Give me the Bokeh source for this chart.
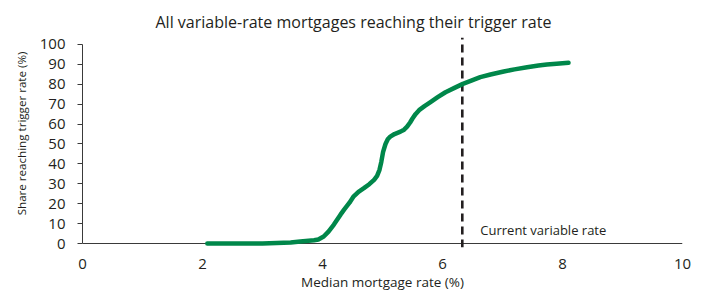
from bokeh.plotting import figure
from bokeh.models import Range1d, FixedTicker, Label
from bokeh.embed import file_html
from bokeh.resources import INLINE

# Data
rate = [2.08, 2.5, 3.0, 3.47, 3.63, 3.86, 3.93, 4.02, 4.1, 4.19, 4.3, 4.36, 4.45, 4.52, 4.6,
        4.69, 4.78, 4.86, 4.91, 4.95, 4.98, 5.01, 5.05, 5.09, 5.13, 5.2, 5.3, 5.36, 5.41, 5.46,
        5.5, 5.55, 5.61, 5.7, 5.8, 5.92, 6.05, 6.2, 6.34, 6.48, 6.63, 6.8, 7.02, 7.2, 7.41,
        7.6, 7.74, 7.9, 8.1]
share = [0.0, 0.0, 0.0, 0.5, 1.0, 1.6, 2.0, 3.5, 6.0, 9.5, 14.5, 17.0, 20.5, 23.7, 26.0,
         27.8, 29.8, 32.0, 34.0, 37.0, 41.0, 46.0, 50.0, 52.5, 53.7, 55.0, 56.2, 57.2, 58.7, 60.8,
         62.8, 65.0, 67.0, 69.0, 71.0, 73.5, 76.0, 78.2, 80.2, 81.8, 83.6, 84.9, 86.4, 87.5, 88.6,
         89.4, 89.9, 90.3, 90.8]
current_rate = 6.33
x_ticks = [0, 2, 4, 6, 8, 10]
y_ticks = [0, 10, 20, 30, 40, 50, 60, 70, 80, 90, 100]

title_text = "All variable-rate mortgages reaching their trigger rate"
x_label = "Median mortgage rate (%)"
y_label = "Share reaching trigger rate (%)"
annot_text = "Current variable rate"

FONT = "Open Sans"
TXT = "#231f20"

p = figure(width=700, height=293, output_backend="svg", toolbar_location=None,
           x_range=Range1d(0, 10), y_range=Range1d(-2, 103.5),
           min_border_left=82, min_border_right=18, min_border_top=37, min_border_bottom=45)

p.title.text = title_text
p.title.text_font = FONT
p.title.text_font_size = "16px"
p.title.text_font_style = "normal"
p.title.text_color = TXT
p.title.align = "left"
p.title.offset = 73
p.title.standoff = 10

p.grid.visible = False
p.outline_line_color = None
p.background_fill_color = "white"
p.border_fill_color = "white"

# y axis
p.yaxis.ticker = FixedTicker(ticks=y_ticks)
p.yaxis.bounds = (0, 100)
p.yaxis.axis_line_color = "#3a3a3a"
p.yaxis.major_tick_line_color = "#3a3a3a"
p.yaxis.major_tick_out = 5
p.yaxis.major_tick_in = 0
p.yaxis.minor_tick_line_color = None
p.yaxis.major_label_text_font = FONT
p.yaxis.major_label_text_font_size = "15px"
p.yaxis.major_label_text_color = TXT
p.yaxis.major_label_standoff = 12
p.yaxis.axis_label = "\u00a0" * 6 + y_label
p.yaxis.axis_label_text_font = FONT
p.yaxis.axis_label_text_font_size = "11.6px"
p.yaxis.axis_label_text_font_style = "normal"
p.yaxis.axis_label_text_color = TXT
p.yaxis.axis_label_standoff = 8

# x axis
p.xaxis.ticker = FixedTicker(ticks=x_ticks)
p.xaxis.axis_line_color = None
p.xaxis.major_tick_line_color = None
p.xaxis.minor_tick_line_color = None
p.xaxis.major_label_text_font = FONT
p.xaxis.major_label_text_font_size = "15px"
p.xaxis.major_label_text_color = TXT
p.xaxis.major_label_standoff = 5
p.xaxis.axis_label = x_label
p.xaxis.axis_label_text_font = FONT
p.xaxis.axis_label_text_font_size = "13.5px"
p.xaxis.axis_label_text_font_style = "normal"
p.xaxis.axis_label_text_color = TXT
p.xaxis.axis_label_standoff = 1

# x axis baseline at y = 0
p.segment(x0=[x_ticks[0]], y0=[0], x1=[x_ticks[-1]], y1=[0], line_color="#3a3a3a", line_width=1.2)

# current variable rate marker
p.segment(x0=[current_rate], y0=[-2], x1=[current_rate], y1=[103.5],
          line_color="#231f20", line_width=2.6, line_dash="8 5")

p.line(rate, share, line_color="#00874a", line_width=4.5, line_cap="round", line_join="round")

p.add_layout(Label(x=6.63, y=7, text=annot_text, text_font=FONT, text_font_size="13px",
                   text_color=TXT, text_baseline="alphabetic"))

open("out.html", "w").write(file_html(p, INLINE))
